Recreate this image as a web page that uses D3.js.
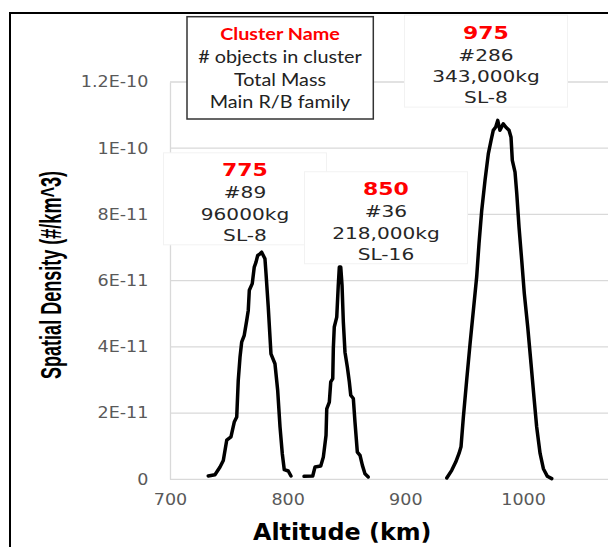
<!DOCTYPE html>
<html>
<head>
<meta charset="utf-8">
<script src="https://cdn.jsdelivr.net/npm/d3@7"></script>
<style>
  body { margin: 0; background: #fff; }
  svg { display: block; }
</style>
</head>
<body>
<div id="container"></div>
<script>
const w = 608;
const h = 547;
const p = {top: 82, left: 170, bottom: 479.3, right: 640.7};

// altitude (km) / spatial density (x 1E-11 #/km^3)
const alt775 = [732.5, 738.2, 742.5, 745.3, 748.2, 751.8, 754.6, 756.7, 758.0, 759.5, 760.9, 763.1, 765.2, 766.5, 767.4, 769.9, 771.6, 773.1, 774.5, 776.5, 777.9, 779.3, 780.7, 781.6, 783.5, 785.8, 789.2, 791.5, 793.5, 795.4, 797.1, 800.5, 802.8];
const dens775 = [0.10, 0.14, 0.37, 0.57, 1.18, 1.28, 1.73, 1.88, 2.99, 3.69, 4.14, 4.35, 4.80, 5.10, 5.71, 5.91, 6.41, 6.56, 6.76, 6.81, 6.86, 6.76, 6.66, 6.21, 5.20, 3.79, 3.49, 2.69, 1.58, 0.78, 0.29, 0.25, 0.10];

const alt850 = [813.9, 821.3, 823.2, 828.1, 830.3, 832.6, 833.2, 835.4, 836.6, 838.3, 838.8, 839.6, 841.7, 843.0, 843.9, 845.1, 846.2, 847.3, 848.7, 850.7, 852.4, 853.6, 855.8, 857.2, 859.2, 861.5, 863.5, 865.7, 868.5];
const dens850 = [0.09, 0.10, 0.37, 0.40, 0.67, 1.33, 2.13, 2.33, 2.94, 3.04, 3.95, 4.60, 4.90, 5.86, 6.41, 6.41, 5.86, 4.75, 3.84, 3.39, 2.94, 2.54, 2.44, 1.73, 0.82, 0.72, 0.42, 0.17, 0.07];

const alt975 = [935.2, 939.4, 942.8, 945.6, 947.3, 949.3, 952.1, 955.0, 957.8, 960.6, 962.6, 964.9, 967.7, 970.5, 972.8, 974.7, 976.8, 978.5, 980.4, 983.2, 985.3, 988.1, 989.8, 990.9, 993.2, 994.7, 996.6, 998.9, 1001.1, 1004.0, 1006.8, 1009.3, 1011.6, 1014.5, 1017.3, 1020.7, 1024.4];
const dens975 = [0.04, 0.27, 0.52, 0.78, 0.98, 1.88, 2.99, 4.10, 5.10, 6.11, 7.12, 8.12, 9.03, 9.83, 10.23, 10.54, 10.64, 10.84, 10.54, 10.74, 10.64, 10.54, 10.33, 9.63, 9.28, 8.62, 7.62, 6.61, 5.61, 4.60, 3.49, 2.48, 1.58, 0.78, 0.32, 0.09, 0.02];

const xTicks = [700, 800, 900, 1000];
const yTicks = [0, 2, 4, 6, 8, 10, 12];
const yTickLabels = ['0', '2E-11', '4E-11', '6E-11', '8E-11', '1E-10', '1.2E-10'];

const clusterNames = ['775', '850', '975'];
const clusterCounts = ['#89', '#36', '#286'];
const clusterMass = ['96000kg', '218,000kg', '343,000kg'];
const clusterFamily = ['SL-8', 'SL-16', 'SL-8'];
const legendLines = ['Cluster Name', '# objects in cluster', 'Total Mass', 'Main R/B family'];

// label boxes: top-centre anchor in data units
const boxAlt = [763.7, 883.5, 968.5];
const boxTop = [9.86, 9.29, 14.02];
const boxW = 163, boxH = 92;
const lineOff = [23.5, 45.5, 67, 88];

const series = [
  {alt: alt775, dens: dens775},
  {alt: alt850, dens: dens850},
  {alt: alt975, dens: dens975}
];

const svg = d3.select('#container')
  .append('svg')
  .attr('width', w)
  .attr('height', h)
  .attr('viewBox', [0, 0, w, h])
  .style('background', '#fff');

const x = d3.scaleLinear()
  .domain([700, 1100])
  .range([p.left, p.right]);
const y = d3.scaleLinear()
  .domain([0, 12])
  .range([p.bottom, p.top]);

// gridlines
svg.append('g')
  .selectAll('line')
  .data(yTicks)
  .enter()
  .append('line')
  .attr('x1', p.left)
  .attr('x2', w + 10)
  .attr('y1', d => y(d))
  .attr('y2', d => y(d))
  .attr('stroke', '#d9d9d9')
  .attr('stroke-width', 1.3);

const yAxis = d3.axisLeft(y)
  .tickValues(yTicks)
  .tickFormat((d, i) => yTickLabels[i])
  .tickSize(0)
  .tickSizeOuter(0)
  .tickPadding(18.5);

svg.append('g')
  .attr('transform', 'translate(' + p.left + ',0)')
  .call(yAxis)
  .call(g => g.select('.domain').attr('stroke', '#d9d9d9').attr('stroke-width', 1.3))
  .call(g => g.selectAll('text')
    .attr('fill', '#595959')
    .attr('transform', 'scale(1.17,1)')
    .style('font', '15px "DejaVu Sans"'));

const xAxis = d3.axisBottom(x)
  .tickValues(xTicks)
  .tickFormat(d3.format('d'))
  .tickSize(0)
  .tickSizeOuter(0)
  .tickPadding(15);

svg.append('g')
  .attr('transform', 'translate(0,' + p.bottom + ')')
  .call(xAxis)
  .call(g => g.select('.domain').remove())
  .call(g => g.selectAll('text')
    .attr('fill', '#595959')
    .attr('transform', 'scale(1.17,1)')
    .style('font', '15px "DejaVu Sans"'));

// legend box
const legend = svg.append('g');
legend.append('rect')
  .attr('x', 187)
  .attr('y', 16.7)
  .attr('width', 186.3)
  .attr('height', 102.3)
  .attr('fill', '#fff')
  .attr('stroke', '#333')
  .attr('stroke-width', 1.5);

const legendBase = [39.5, 63, 86, 107.5];
legend.selectAll('text')
  .data(legendLines)
  .enter()
  .append('text')
  .attr('transform', (d, i) => 'translate(280,' + legendBase[i] + ') scale(1.2,1)')
  .attr('text-anchor', 'middle')
  .attr('fill', (d, i) => i === 0 ? '#ff0000' : '#222')
  .style('font-family', 'Lato')
  .style('font-size', '16.5px')
  .style('font-weight', (d, i) => i === 0 ? 'bold' : 'normal')
  .text(d => d);

// cluster label boxes
const boxes = svg.append('g')
  .selectAll('g')
  .data(clusterNames)
  .enter()
  .append('g')
  .attr('transform', (d, i) => 'translate(' + x(boxAlt[i]) + ',' + y(boxTop[i]) + ')');

boxes.append('rect')
  .attr('x', -boxW / 2)
  .attr('y', 0)
  .attr('width', boxW)
  .attr('height', boxH)
  .attr('fill', '#fff')
  .attr('stroke', '#f2f2f2');

boxes.each(function (d, i) {
  const lines = [clusterNames[i], clusterCounts[i], clusterMass[i], clusterFamily[i]];
  d3.select(this).selectAll('text')
    .data(lines)
    .enter()
    .append('text')
    .attr('transform', (t, j) => 'translate(0,' + lineOff[j] + ') scale(1.22,1)')
    .attr('text-anchor', 'middle')
    .attr('fill', (t, j) => j === 0 ? '#ff0000' : '#262626')
    .style('font-family', '"DejaVu Sans"')
    .style('font-size', (t, j) => j === 0 ? '18px' : '16.5px')
    .style('font-weight', (t, j) => j === 0 ? 'bold' : 'normal')
    .text(t => t);
});

// density curves
const line = d3.line()
  .x(d => x(d[0]))
  .y(d => y(d[1]));

svg.append('g')
  .selectAll('path')
  .data(series)
  .enter()
  .append('path')
  .attr('d', s => line(d3.zip(s.alt, s.dens)))
  .attr('fill', 'none')
  .attr('stroke', '#000')
  .attr('stroke-width', 3.5)
  .attr('stroke-linejoin', 'round')
  .attr('stroke-linecap', 'round');

// axis titles
svg.append('text')
  .attr('transform', 'translate(342.2,540) scale(1.06,1)')
  .attr('text-anchor', 'middle')
  .style('font', 'bold 22.5px "DejaVu Sans"')
  .attr('fill', '#000')
  .text('Altitude (km)');

svg.append('text')
  .attr('transform', 'translate(61,275) scale(1.3,1) rotate(-90) scale(0.82,1)')
  .attr('text-anchor', 'middle')
  .style('font', 'bold 22px "Liberation Sans"')
  .attr('fill', '#000')
  .text('Spatial Density (#/km^3)');

// outer frame
svg.append('rect')
  .attr('x', 10)
  .attr('y', 13)
  .attr('width', 800)
  .attr('height', 800)
  .attr('fill', 'none')
  .attr('stroke', '#000')
  .attr('stroke-width', 2);
</script>
</body>
</html>
